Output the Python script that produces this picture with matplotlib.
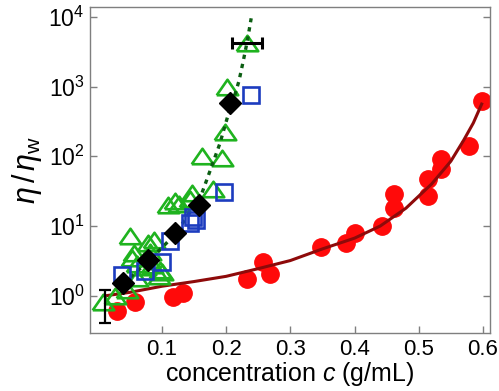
import matplotlib
matplotlib.use("Agg")
import matplotlib.pyplot as plt
import numpy as np

plt.rcParams['font.family'] = ['Liberation Sans', 'DejaVu Sans']
plt.rcParams['mathtext.fontset'] = 'custom'
plt.rcParams['mathtext.rm'] = 'Liberation Sans'
plt.rcParams['mathtext.it'] = 'Liberation Sans:italic'
plt.rcParams['mathtext.bf'] = 'Liberation Sans:bold'

# ---- data ----
circle_c = [0.030, 0.058, 0.118, 0.133, 0.232, 0.258, 0.268, 0.347, 0.386, 0.400,
            0.443, 0.461, 0.461, 0.515, 0.515, 0.535, 0.535, 0.578, 0.598]
circle_y = [0.60, 0.81, 0.97, 1.09, 1.73, 3.10, 2.07, 5.0, 5.7, 7.9,
            10.1, 18.0, 28.5, 26.5, 47.5, 65, 92, 142, 628]

fit_red_c = [0.012, 0.05, 0.10, 0.15, 0.20, 0.25, 0.30, 0.35, 0.40, 0.44,
             0.48, 0.52, 0.55, 0.57, 0.585, 0.598]
fit_red_y = [1.00, 1.12, 1.37, 1.60, 1.90, 2.45, 3.2, 4.7, 6.7, 10.0,
             18, 40, 85, 170, 300, 560]

tri_c = [0.008, 0.027, 0.045, 0.051, 0.053, 0.056, 0.061, 0.061, 0.074, 0.079,
         0.082, 0.084, 0.087, 0.095, 0.097, 0.100, 0.110, 0.121, 0.126, 0.144,
         0.147, 0.162, 0.179, 0.193, 0.199, 0.202, 0.232]
tri_y = [0.82, 0.98, 1.22, 7.1, 3.5, 4.1, 2.9, 1.8, 2.6, 5.7,
         4.3, 2.8, 6.3, 1.9, 2.35, 2.2, 20, 22.5, 21, 24,
         29.5, 101, 34, 94, 226, 980, 4260]

fit_green_c = [0.040, 0.080, 0.120, 0.160, 0.175, 0.190, 0.205, 0.214, 0.220,
               0.227, 0.233, 0.239]
fit_green_y = [1.5, 3.2, 7.5, 26, 62, 150, 450, 780, 1200, 2400, 4500, 9500]

sq_c = [0.038, 0.074, 0.100, 0.113, 0.143, 0.149, 0.153, 0.196, 0.239]
sq_y = [2.0, 2.3, 3.1, 6.0, 11.0, 13.5, 12.0, 31, 755]

dia_c = [0.040, 0.079, 0.121, 0.158, 0.206]
dia_y = [1.52, 3.28, 7.9, 20, 576]

# error bars
vbar_c, vbar_lo, vbar_hi = 0.0106, 0.41, 1.22
hbar_y, hbar_lo, hbar_hi = 4170, 0.209, 0.256

xticks = [0.1, 0.2, 0.3, 0.4, 0.5, 0.6]
xticklabels = ['0.1', '0.2', '0.3', '0.4', '0.5', '0.6']
yticks = [1, 10, 100, 1000, 10000]

# ---- figure ----
fig = plt.figure(figsize=(4.99, 3.91), dpi=100)
ax = fig.add_axes([0.1804, 0.1476, 0.8016, 0.8337])

red = '#ff0a0a'
darkred = '#8e0a0a'
green = '#1fb31f'
dgreen = '#0b5e12'
blue = '#1c3cbf'

ax.plot(circle_c, circle_y, 'o', ms=12.5, color=red, mec=red, zorder=2)
ax.plot(fit_red_c, fit_red_y, '-', color=darkred, lw=2.2, zorder=3)

tri_marker = [(-1, -0.72), (1, -0.72), (0, 0.72), (-1, -0.72)]
ax.plot(tri_c, tri_y, linestyle='none', marker=tri_marker, ms=15.5, mfc='none',
        mec=green, mew=1.9, zorder=4)
ax.plot(fit_green_c, fit_green_y, color=dgreen, lw=2.4, linestyle=(0, (1.3, 1.5)), zorder=5)

ax.plot(sq_c, sq_y, 's', ms=12.2, mfc='none', mec=blue, mew=1.9, zorder=6)
ax.plot(dia_c, dia_y, 'D', ms=11.5, color='black', zorder=7)

vc = np.sqrt(vbar_lo * vbar_hi)
ax.errorbar([vbar_c], [vc], yerr=[[vc - vbar_lo], [vbar_hi - vc]], fmt='none',
            ecolor='black', elinewidth=1.6, capsize=4.5, capthick=1.6, zorder=8)
hc = (hbar_lo + hbar_hi) / 2
ax.errorbar([hc], [hbar_y], xerr=[[hc - hbar_lo], [hbar_hi - hc]], fmt='none',
            ecolor='black', elinewidth=2.2, capsize=4.5, capthick=2.2, zorder=8)

ax.set_yscale('log')
ax.set_xlim(-0.012, 0.611)
ax.set_ylim(0.29, 13650)
ax.set_xticks(xticks)
ax.set_xticklabels(xticklabels)
ax.set_yticks(yticks)
ax.yaxis.set_minor_locator(matplotlib.ticker.NullLocator())

for s in ax.spines.values():
    s.set_color('#7f7f7f')
    s.set_linewidth(1.0)
ax.tick_params(axis='both', which='major', direction='in', length=4.8, width=1.0,
               color='#7f7f7f', labelsize=16, pad=4)
ax.tick_params(axis='y', right=True, left=True, labelsize=16.5)

ax.set_xlabel('concentration $c$ (g/mL)', fontsize=18, labelpad=0)
ax.set_ylabel(r'$\eta\,/\,\eta_{\mathrm{w}}$', fontsize=22, labelpad=3)

fig.savefig('out.png', dpi=100)
